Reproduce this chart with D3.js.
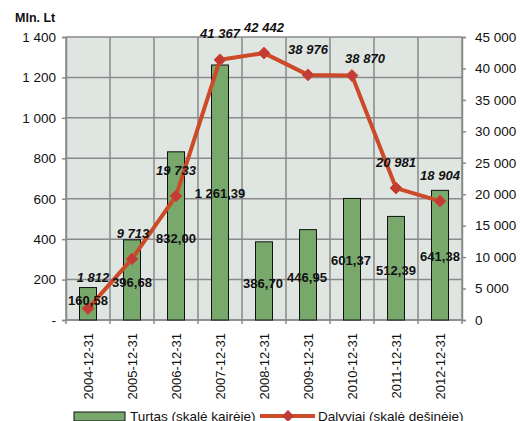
<!DOCTYPE html>
<html>
<head>
<meta charset="utf-8">
<script src="https://cdn.jsdelivr.net/npm/d3@7"></script>
<style>
  body { margin: 0; background: #fff; }
  text { font-family: "Liberation Sans", Arial, sans-serif; }
</style>
</head>
<body>
<svg id="chart" width="526" height="421"></svg>
<script>
// data
var dates = ["2004-12-31", "2005-12-31", "2006-12-31", "2007-12-31", "2008-12-31",
             "2009-12-31", "2010-12-31", "2011-12-31", "2012-12-31"];
var turtas = [160.58, 396.68, 832.00, 1261.39, 386.70, 446.95, 601.37, 512.39, 641.38];
var dalyviai = [1812, 9713, 19733, 41367, 42442, 38976, 38870, 20981, 18904];
var leftTicks = [0, 200, 400, 600, 800, 1000, 1200, 1400];
var rightTicks = [0, 5000, 10000, 15000, 20000, 25000, 30000, 35000, 40000, 45000];

// label nudges (layout only), [dx, dy] from the mark
var barLabelNudge = [[0, 17], [0, 47], [0, 91], [0, 133], [-1, 46], [-1, 52], [-1, 67], [0, 59], [0, 71]];
var lineLabelNudge = [[5, -27], [1, -21], [0, -21], [0, -22], [0, -21], [0, -21], [13, -13], [0, -21], [0, -21]];

var lt = d3.formatLocale({decimal: ",", thousands: " ", grouping: [3], currency: ["", ""]});
var fmtInt = lt.format(",d");
var fmtDec = lt.format(",.2f");

var svg = d3.select("#chart");
var plotL = 66, plotR = 462, plotT = 37, plotB = 320;
var gridColor = "#8a8a8a";

var x = d3.scaleBand().domain(dates).range([plotL, plotR]);
var yL = d3.scaleLinear().domain([0, 1400]).range([plotB, plotT]);
var yR = d3.scaleLinear().domain([0, 45000]).range([plotB, plotT]);
var cx = function (i) { return x(dates[i]) + x.bandwidth() / 2; };

// plot background
svg.append("rect")
  .attr("x", plotL).attr("y", plotT)
  .attr("width", plotR - plotL).attr("height", plotB - plotT)
  .attr("fill", "#dfe6e2");

// horizontal grid
svg.selectAll(".hgrid")
  .data(leftTicks)
  .enter().append("line")
    .attr("x1", plotL).attr("x2", plotR)
    .attr("y1", d => yL(d)).attr("y2", d => yL(d))
    .attr("stroke", gridColor).attr("stroke-width", 1.5);

// vertical grid at category boundaries
var bounds = dates.map(d => x(d)).concat([plotR]);
svg.selectAll(".vgrid")
  .data(bounds)
  .enter().append("line")
    .attr("x1", d => d).attr("x2", d => d)
    .attr("y1", plotT).attr("y2", plotB + 4)
    .attr("stroke", gridColor).attr("stroke-width", 1.5);

// left axis
var axL = svg.append("g").attr("transform", "translate(" + plotL + ",0)")
  .call(d3.axisLeft(yL).tickValues(leftTicks).tickSize(4).tickPadding(6)
    .tickFormat(d => d === 0 ? "-" : fmtInt(d)));
axL.select(".domain").attr("stroke", gridColor).attr("stroke-width", 1.5);
axL.selectAll(".tick line").attr("stroke", gridColor).attr("stroke-width", 1.5);
axL.selectAll("text").style("font-size", "13.5px").attr("fill", "#111")
  .attr("font-family", "'Liberation Sans', Arial, sans-serif");

// right axis
var axR = svg.append("g").attr("transform", "translate(" + plotR + ",0)")
  .call(d3.axisRight(yR).tickValues(rightTicks).tickSize(4).tickPadding(9)
    .tickFormat(d => fmtInt(d)));
axR.select(".domain").attr("stroke", gridColor).attr("stroke-width", 1.5);
axR.selectAll(".tick line").attr("stroke", gridColor).attr("stroke-width", 1.5);
axR.selectAll("text").style("font-size", "13.5px").attr("fill", "#111")
  .attr("font-family", "'Liberation Sans', Arial, sans-serif");

// bottom axis line
svg.append("line")
  .attr("x1", plotL).attr("x2", plotR)
  .attr("y1", plotB).attr("y2", plotB)
  .attr("stroke", gridColor).attr("stroke-width", 1.5);

// x labels, rotated
svg.selectAll(".xlab")
  .data(dates)
  .enter().append("text")
    .attr("transform", (d, i) => "translate(" + (cx(i) + 5) + "," + (plotB + 13) + ") rotate(-90)")
    .attr("text-anchor", "end")
    .style("font-size", "13px")
    .attr("fill", "#111")
    .text(d => d);

// bars
var barW = 17;
svg.selectAll(".bar")
  .data(turtas)
  .enter().append("rect")
    .attr("x", (d, i) => cx(i) - barW / 2)
    .attr("y", d => yL(d))
    .attr("width", barW)
    .attr("height", d => plotB - yL(d))
    .attr("fill", "#78a86c")
    .attr("stroke", "#111")
    .attr("stroke-width", 1);

// line
var line = d3.line()
  .x((d, i) => cx(i))
  .y(d => yR(d));
svg.append("path")
  .datum(dalyviai)
  .attr("d", line)
  .attr("fill", "none")
  .attr("stroke", "#cd4a28")
  .attr("stroke-width", 4)
  .attr("stroke-linejoin", "round");

var diamond = d3.symbol().type(d3.symbolDiamond2).size(90);
svg.selectAll(".pt")
  .data(dalyviai)
  .enter().append("path")
    .attr("d", diamond)
    .attr("transform", (d, i) => "translate(" + cx(i) + "," + yR(d) + ")")
    .attr("fill", "#c23b36")
    .attr("stroke", "#cd4a28")
    .attr("stroke-width", 1);

// bar value labels
svg.selectAll(".blab")
  .data(turtas)
  .enter().append("text")
    .attr("x", (d, i) => cx(i) + barLabelNudge[i][0])
    .attr("y", (d, i) => yL(d) + barLabelNudge[i][1])
    .attr("text-anchor", "middle")
    .style("font-size", "13px")
    .style("font-weight", "bold")
    .attr("fill", "#111")
    .text(d => fmtDec(d));

// line value labels
svg.selectAll(".llab")
  .data(dalyviai)
  .enter().append("text")
    .attr("x", (d, i) => cx(i) + lineLabelNudge[i][0])
    .attr("y", (d, i) => yR(d) + lineLabelNudge[i][1])
    .attr("text-anchor", "middle")
    .style("font-size", "13px")
    .style("font-weight", "bold")
    .style("font-style", "italic")
    .attr("fill", "#111")
    .text(d => fmtInt(d));

// unit title
svg.append("text")
  .attr("x", 15).attr("y", 22)
  .style("font-size", "12.5px")
  .style("font-weight", "bold")
  .attr("fill", "#111")
  .text("Mln. Lt");

// legend
var lg = svg.append("g");
lg.append("rect")
  .attr("x", 74).attr("y", 412).attr("width", 51).attr("height", 9)
  .attr("fill", "#78a86c").attr("stroke", "#111").attr("stroke-width", 1);
lg.append("text")
  .attr("x", 130).attr("y", 420.5)
  .style("font-size", "13.5px").attr("fill", "#111")
  .text("Turtas (skalė kairėje)");
lg.append("line")
  .attr("x1", 260).attr("x2", 315).attr("y1", 416).attr("y2", 416)
  .attr("stroke", "#cd4a28").attr("stroke-width", 4);
lg.append("path")
  .attr("d", diamond)
  .attr("transform", "translate(288,416)")
  .attr("fill", "#c23b36");
lg.append("text")
  .attr("x", 318).attr("y", 420.5)
  .style("font-size", "13.5px").attr("fill", "#111")
  .text("Dalyviai (skalė dešinėje)");
</script>
</body>
</html>
